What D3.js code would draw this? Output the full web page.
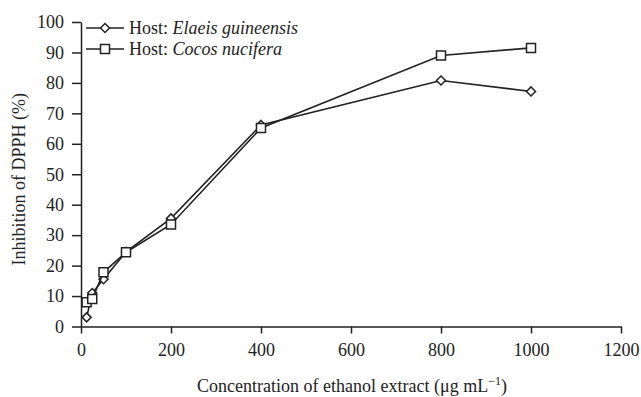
<!DOCTYPE html>
<html>
<head>
<meta charset="utf-8">
<script src="https://cdn.jsdelivr.net/npm/d3@7"></script>
<style>
  body { margin: 0; background: #fff; }
  svg, svg text { font-family: "Liberation Serif", "DejaVu Serif", serif; }
</style>
</head>
<body>
<div id="chart"></div>
<script>
const concentrations = [12.5, 25, 50, 100, 200, 400, 800, 1000];
const elaeisValues = [3, 11, 15.5, 24.5, 35.5, 66.2, 80.8, 77.2];
const cocosValues = [8, 9, 17.8, 24.4, 33.5, 65.2, 89, 91.5];
const xTickValues = [0, 200, 400, 600, 800, 1000, 1200];
const yTickValues = [0, 10, 20, 30, 40, 50, 60, 70, 80, 90, 100];

const width = 641, height = 397;
const margin = { top: 22, right: 20, bottom: 70, left: 81 };
const ink = '#222';

const svg = d3.select('#chart').append('svg')
  .attr('width', width)
  .attr('height', height);

const x = d3.scaleLinear().domain([0, 1200]).range([margin.left, 621]);
const y = d3.scaleLinear().domain([0, 100]).range([326.5, margin.top]);

// axes
const xAxis = svg.append('g')
  .attr('transform', `translate(0,${y(0)})`)
  .call(d3.axisBottom(x).tickValues(xTickValues).tickFormat(d3.format('d'))
    .tickSize(7).tickSizeOuter(0).tickPadding(10));

const yAxis = svg.append('g')
  .attr('transform', `translate(${x(0)},0)`)
  .call(d3.axisLeft(y).tickValues(yTickValues).tickSize(9).tickSizeOuter(0).tickPadding(8));

svg.selectAll('.tick text')
  .attr('font-family', null)
  .style('font-size', '18px')
  .attr('fill', ink);
svg.selectAll('g').attr('font-family', null);

svg.selectAll('.domain, .tick line').attr('stroke', ink).attr('stroke-width', 1.5);

// axis titles
svg.append('text')
  .attr('x', 352)
  .attr('y', 392)
  .attr('text-anchor', 'middle')
  .style('font-size', '18px')
  .attr('fill', ink)
  .html('Concentration of ethanol extract (μg mL<tspan dy="-7" font-size="12px">−1</tspan><tspan dy="7">)</tspan>');

svg.append('text')
  .attr('transform', `translate(25,${(y(0) + y(100)) / 2 + 5}) rotate(-90)`)
  .attr('text-anchor', 'middle')
  .style('font-size', '18px')
  .attr('fill', ink)
  .text('Inhibition of DPPH (%)');

// series
const line = d3.line().x(d => x(d[0])).y(d => y(d[1]));

const elaeis = concentrations.map((c, i) => [c, elaeisValues[i]]);
const cocos = concentrations.map((c, i) => [c, cocosValues[i]]);

function drawSeries(data, marker) {
  svg.append('path')
    .datum(data)
    .attr('fill', 'none')
    .attr('stroke', ink)
    .attr('stroke-width', 1.6)
    .attr('d', line);

  svg.append('g').selectAll('path')
    .data(data)
    .enter()
    .append('path')
    .attr('transform', d => `translate(${x(d[0])},${y(d[1])})`)
    .attr('d', marker)
    .attr('fill', '#fff')
    .attr('stroke', ink)
    .attr('stroke-width', 1.5);
}

const diamond = 'M0,-4.5L4.5,0L0,4.5L-4.5,0Z';
const square = 'M-4.5,-4.5H4.5V4.5H-4.5Z';

drawSeries(elaeis, diamond);
drawSeries(cocos, square);

// legend
const legendItems = [
  { label: 'Elaeis guineensis', marker: diamond },
  { label: 'Cocos nucifera', marker: square }
];

const legend = svg.append('g')
  .selectAll('g')
  .data(legendItems)
  .enter()
  .append('g')
  .attr('transform', (d, i) => `translate(86,${28 + i * 21})`);

legend.append('line')
  .attr('x1', 0).attr('x2', 38)
  .attr('stroke', ink).attr('stroke-width', 1.6);

legend.append('path')
  .attr('transform', 'translate(19,0)')
  .attr('d', d => d.marker)
  .attr('fill', '#fff')
  .attr('stroke', ink)
  .attr('stroke-width', 1.5);

legend.append('text')
  .attr('x', 43)
  .attr('dy', '0.35em')
  .style('font-size', '18px')
  .attr('fill', ink)
  .html(d => `Host: <tspan font-style="italic">${d.label}</tspan>`);
</script>
</body>
</html>
